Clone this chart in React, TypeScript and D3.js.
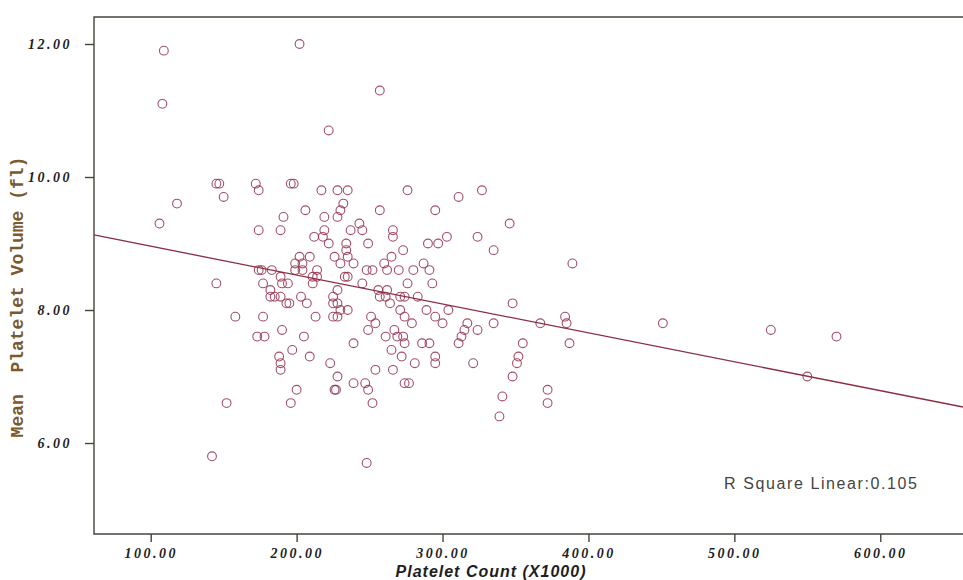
import { useEffect, useRef } from 'react'
import * as d3 from 'd3'

// MPV levels (fl) and the platelet counts (x1000) plotted at each level
const mpvLevels = [
  12.0, 11.9, 11.3, 11.1, 10.7,
  9.9, 9.8, 9.7, 9.6, 9.5, 9.4, 9.3, 9.2, 9.1, 9.0,
  8.9, 8.8, 8.7, 8.6, 8.5, 8.4, 8.3, 8.2, 8.1, 8.0,
  7.9, 7.8, 7.7, 7.6, 7.5, 7.4, 7.3, 7.2, 7.1, 7.0,
  6.9, 6.8, 6.7, 6.6, 6.4, 5.8, 5.7,
]
const plateletAtLevel = [
  [202], [109], [257], [108], [222],
  [145, 147, 172, 196, 198],
  [174, 217, 228, 235, 276, 327],
  [150, 311],
  [118, 232],
  [206, 230, 257, 295],
  [191, 219, 228],
  [106, 243, 346],
  [174, 189, 219, 237, 245, 266],
  [212, 218, 266, 303, 324],
  [222, 234, 249, 290, 297],
  [234, 273, 335],
  [202, 209, 226, 235, 265],
  [199, 204, 230, 239, 260, 287, 389],
  [174, 176, 183, 199, 204, 214, 248, 252, 262, 270, 280, 291],
  [189, 211, 214, 233, 235],
  [145, 177, 190, 194, 211, 245, 276, 293],
  [182, 228, 256, 262],
  [182, 185, 189, 203, 225, 257, 261, 271, 274, 283],
  [193, 195, 207, 225, 228, 264, 348],
  [230, 235, 271, 289, 304],
  [158, 177, 213, 225, 228, 251, 274, 295, 384],
  [254, 279, 300, 317, 335, 367, 385, 451],
  [190, 249, 267, 315, 324, 525],
  [173, 178, 205, 261, 269, 273, 313, 570],
  [239, 274, 286, 291, 311, 355, 387],
  [197, 265],
  [188, 209, 272, 295, 352],
  [189, 223, 281, 295, 321, 351],
  [189, 254, 266],
  [228, 348, 550],
  [239, 247, 274, 277],
  [200, 226, 227, 249, 372],
  [341],
  [152, 196, 252, 372],
  [339],
  [142],
  [248],
]

const xTicks = [100, 200, 300, 400, 500, 600]
const yTicks = [6, 8, 10, 12]

// linear fit shown on the chart
const fitIntercept = 9.394
const fitSlope = -0.004344
const rSquare = 0.105

export default function App() {
  const ref = useRef<SVGSVGElement>(null)

  useEffect(() => {
    const width = 963
    const height = 580
    const m = { left: 94, top: 17, right: 963, bottom: 534 }

    const svg = d3.select(ref.current)
    svg.selectAll('*').remove()
    svg.attr('viewBox', `0 0 ${width} ${height}`)

    const x = d3.scaleLinear().domain([61.13, 656.7]).range([m.left, m.right])
    const y = d3.scaleLinear().domain([4.632, 12.406]).range([m.bottom, m.top])

    svg.append('rect').attr('width', width).attr('height', height).attr('fill', '#fff')

    // frame (right side runs off the page like the scan)
    svg.append('path')
      .attr('d', `M${width + 10},${m.top}H${m.left}V${m.bottom}H${width + 10}`)
      .attr('fill', 'none')
      .attr('stroke', '#45443c')
      .attr('stroke-width', 1.4)

    // points
    const points = mpvLevels.flatMap((v, i) => plateletAtLevel[i].map(p => [p, v]))
    svg.append('g')
      .selectAll('circle')
      .data(points)
      .join('circle')
      .attr('cx', d => x(d[0]))
      .attr('cy', d => y(d[1]))
      .attr('r', 4.4)
      .attr('fill', 'none')
      .attr('stroke', '#93304c')
      .attr('stroke-opacity', 0.85)
      .attr('stroke-width', 1.1)

    // fit line
    const [x0, x1] = x.domain()
    svg.append('line')
      .attr('x1', x(x0)).attr('y1', y(fitIntercept + fitSlope * x0))
      .attr('x2', x(x1)).attr('y2', y(fitIntercept + fitSlope * x1))
      .attr('stroke', '#8a2d42')
      .attr('stroke-width', 1.3)

    const tickFont = (g: any) => g.selectAll('text')
      .attr('fill', '#1e1e1e')
      .style('font-family', '"Liberation Serif", serif')
      .style('font-weight', 'bold')
      .style('font-style', 'italic')
      .style('font-size', '14px')
      .style('letter-spacing', '2.5px')

    const yAxis = svg.append('g')
      .attr('transform', `translate(${m.left},0)`)
      .call(d3.axisLeft(y).tickValues(yTicks).tickFormat(d3.format('.2f')).tickSize(9).tickPadding(13))
    yAxis.select('.domain').remove()
    yAxis.selectAll('line').attr('stroke', '#45443c').attr('stroke-width', 1.4)
    tickFont(yAxis)

    const xAxis = svg.append('g')
      .attr('transform', `translate(0,${m.bottom})`)
      .call(d3.axisBottom(x).tickValues(xTicks).tickFormat(d3.format('.2f')).tickSize(8).tickPadding(6))
    xAxis.select('.domain').remove()
    xAxis.selectAll('line').attr('stroke', '#45443c').attr('stroke-width', 1.4)
    tickFont(xAxis)

    svg.append('text')
      .attr('x', 491).attr('y', 577)
      .attr('text-anchor', 'middle')
      .attr('fill', '#1e1e1e')
      .style('font-family', '"Liberation Sans", Arial, sans-serif')
      .style('font-weight', 'bold')
      .style('font-style', 'italic')
      .style('font-size', '16px')
      .style('letter-spacing', '1px')
      .text('Platelet Count (X1000)')

    svg.append('text')
      .attr('transform', 'translate(18,297) rotate(-90)')
      .attr('text-anchor', 'middle')
      .attr('dominant-baseline', 'central')
      .attr('fill', '#7a5a2c')
      .style('font-family', '"Liberation Mono", "Courier New", monospace')
      .style('font-weight', 'bold')
      .style('font-size', '18px')
      .style('white-space', 'pre')
      .text('Mean  Platelet Volume (fl)')

    svg.append('text')
      .attr('x', 724).attr('y', 489)
      .attr('fill', '#444')
      .style('font-family', '"Liberation Sans", Arial, sans-serif')
      .style('font-size', '16px')
      .style('letter-spacing', '1.6px')
      .text(`R Square Linear:${rSquare.toFixed(3)}`)
  }, [])

  return (
    <svg
      ref={ref}
      width={963}
      height={580}
      style={{ position: 'absolute', left: 0, top: 0, display: 'block' }}
    />
  )
}
